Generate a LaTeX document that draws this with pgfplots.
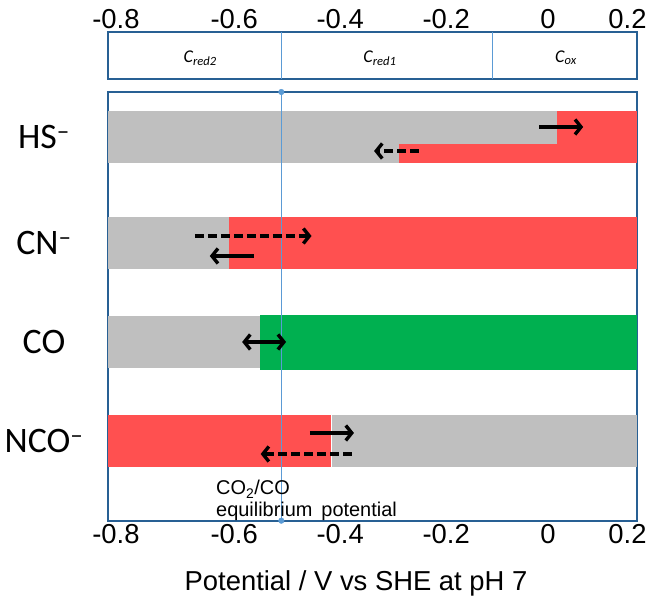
\documentclass[border=0pt]{standalone}
\usepackage{fontspec}
\setmainfont{Liberation Sans}
\newfontfamily\calibri{Carlito}
\usepackage{pgfplots}
\pgfplotsset{compat=1.18}
\usetikzlibrary{arrows.meta}
\definecolor{boxblue}{RGB}{40,96,148}
\definecolor{eqblue}{RGB}{91,155,213}
\definecolor{barred}{RGB}{255,80,80}
\definecolor{bargray}{RGB}{191,191,191}
\definecolor{bargreen}{RGB}{0,176,80}
\tikzset{
  arr/.style={black, line width=3.4bp, -{Straight Barb[length=6bp,width=15bp]}},
  darr/.style={black, line width=3.4bp, {Straight Barb[length=6bp,width=15bp]}-{Straight Barb[length=6bp,width=15bp]}},
  dsh/.style={dash pattern=on 9bp off 4bp},
}
\begin{document}
\begin{tikzpicture}
\useasboundingbox (0,0) rectangle (650bp,597bp);
\begin{axis}[
  at={(108bp,76.3bp)}, anchor=south west,
  scale only axis, width=529bp, height=428.7bp,
  xmin=-0.838, xmax=0.16, ymin=76.3, ymax=505,
  axis line style={boxblue, line width=2.2bp},
  xtick={-0.823,-0.6,-0.4,-0.2,-0.008,0.142},
  xticklabels={-0.8,-0.6,-0.4,-0.2,0,0.2},
  major tick length=0pt,
  xticklabel style={font=\fontsize{27.5}{30}\selectfont},
  ytick={460,354.3,255,156},
  yticklabels={HS\textsuperscript{–},CN\textsuperscript{–},CO,NCO\textsuperscript{–}},
  yticklabel style={font=\calibri\fontsize{36}{40}\selectfont, anchor=center, xshift=-64bp},
  clip=false,
]
% HS-
\addplot[fill=bargray, draw=none] coordinates {(-0.838,433.7) (0.16,433.7) (0.16,486.3) (-0.838,486.3)};
\addplot[fill=barred, draw=none] coordinates {(0.009,433.7) (0.16,433.7) (0.16,486.3) (0.009,486.3)};
\addplot[fill=barred, draw=none] coordinates {(-0.289,433.7) (0.16,433.7) (0.16,453) (-0.289,453)};
% CN-
\addplot[fill=bargray, draw=none] coordinates {(-0.838,328) (-0.609,328) (-0.609,380.3) (-0.838,380.3)};
\addplot[fill=barred, draw=none] coordinates {(-0.609,328) (0.16,328) (0.16,380.3) (-0.609,380.3)};
% CO
\addplot[fill=bargray, draw=none] coordinates {(-0.838,228.7) (-0.552,228.7) (-0.552,281) (-0.838,281)};
\addplot[fill=bargreen, draw=none] coordinates {(-0.552,227) (0.16,227) (0.16,282) (-0.552,282)};
% NCO-
\addplot[fill=barred, draw=none] coordinates {(-0.838,129.7) (-0.418,129.7) (-0.418,182) (-0.838,182)};
\addplot[fill=bargray, draw=none] coordinates {(-0.415,129.7) (0.16,129.7) (0.16,182) (-0.415,182)};
% equilibrium line
\addplot[eqblue, line width=1bp] coordinates {(-0.511,76.3) (-0.511,505)};
% arrows
\addplot[arr] coordinates {(-0.0245,470) (0.0585,470)};
\addplot[arr, dsh] coordinates {(-0.252,446) (-0.336,446)};
\addplot[arr, dsh] coordinates {(-0.674,361) (-0.454,361)};
\addplot[arr] coordinates {(-0.563,341) (-0.646,341)};
\addplot[darr] coordinates {(-0.585,255) (-0.502,255)};
\addplot[arr] coordinates {(-0.457,164) (-0.374,164)};
\addplot[arr, dsh] coordinates {(-0.378,143) (-0.550,143)};
\addplot[only marks, mark=*, mark size=2.8bp, mark options={fill=eqblue, draw=eqblue}] coordinates {(-0.511,76.3) (-0.511,505)};
\end{axis}
\begin{axis}[
  at={(108bp,518bp)}, anchor=south west,
  scale only axis, width=529bp, height=47bp,
  xmin=-0.838, xmax=0.16, ymin=0, ymax=1,
  axis line style={boxblue, line width=2.2bp},
  xtick={-0.823,-0.6,-0.4,-0.2,-0.008,0.142},
  xticklabels={-0.8,-0.6,-0.4,-0.2,0,0.2},
  xticklabel pos=upper,
  ytick=\empty,
  major tick length=0pt,
  xticklabel style={font=\fontsize{27.5}{30}\selectfont},
  clip=false,
]
\addplot[eqblue, line width=1bp] coordinates {(-0.511,0) (-0.511,1)};
\addplot[eqblue, line width=1bp] coordinates {(-0.113,0) (-0.113,1)};
\node[font=\calibri\itshape\fontsize{18}{20}\selectfont] at (axis cs:-0.664,0.45) {C\textsubscript{red2}};
\node[font=\calibri\itshape\fontsize{18}{20}\selectfont] at (axis cs:-0.325,0.45) {C\textsubscript{red1}};
\node[font=\calibri\itshape\fontsize{18}{20}\selectfont] at (axis cs:0.026,0.45) {C\textsubscript{ox}};
\end{axis}
\node[anchor=base, font=\fontsize{27.5}{30}\selectfont, inner sep=0pt] at (356bp,7bp) {Potential / V vs SHE at pH 7};
\node[anchor=base west, font=\fontsize{20}{22}\selectfont, inner sep=0pt] at (216bp,102bp) {CO\textsubscript{2}/CO};
\node[anchor=base west, font=\fontsize{20}{22}\selectfont, inner sep=0pt] at (216bp,80bp) {equilibrium\hspace{0.45em}potential};
\end{tikzpicture}
\end{document}
